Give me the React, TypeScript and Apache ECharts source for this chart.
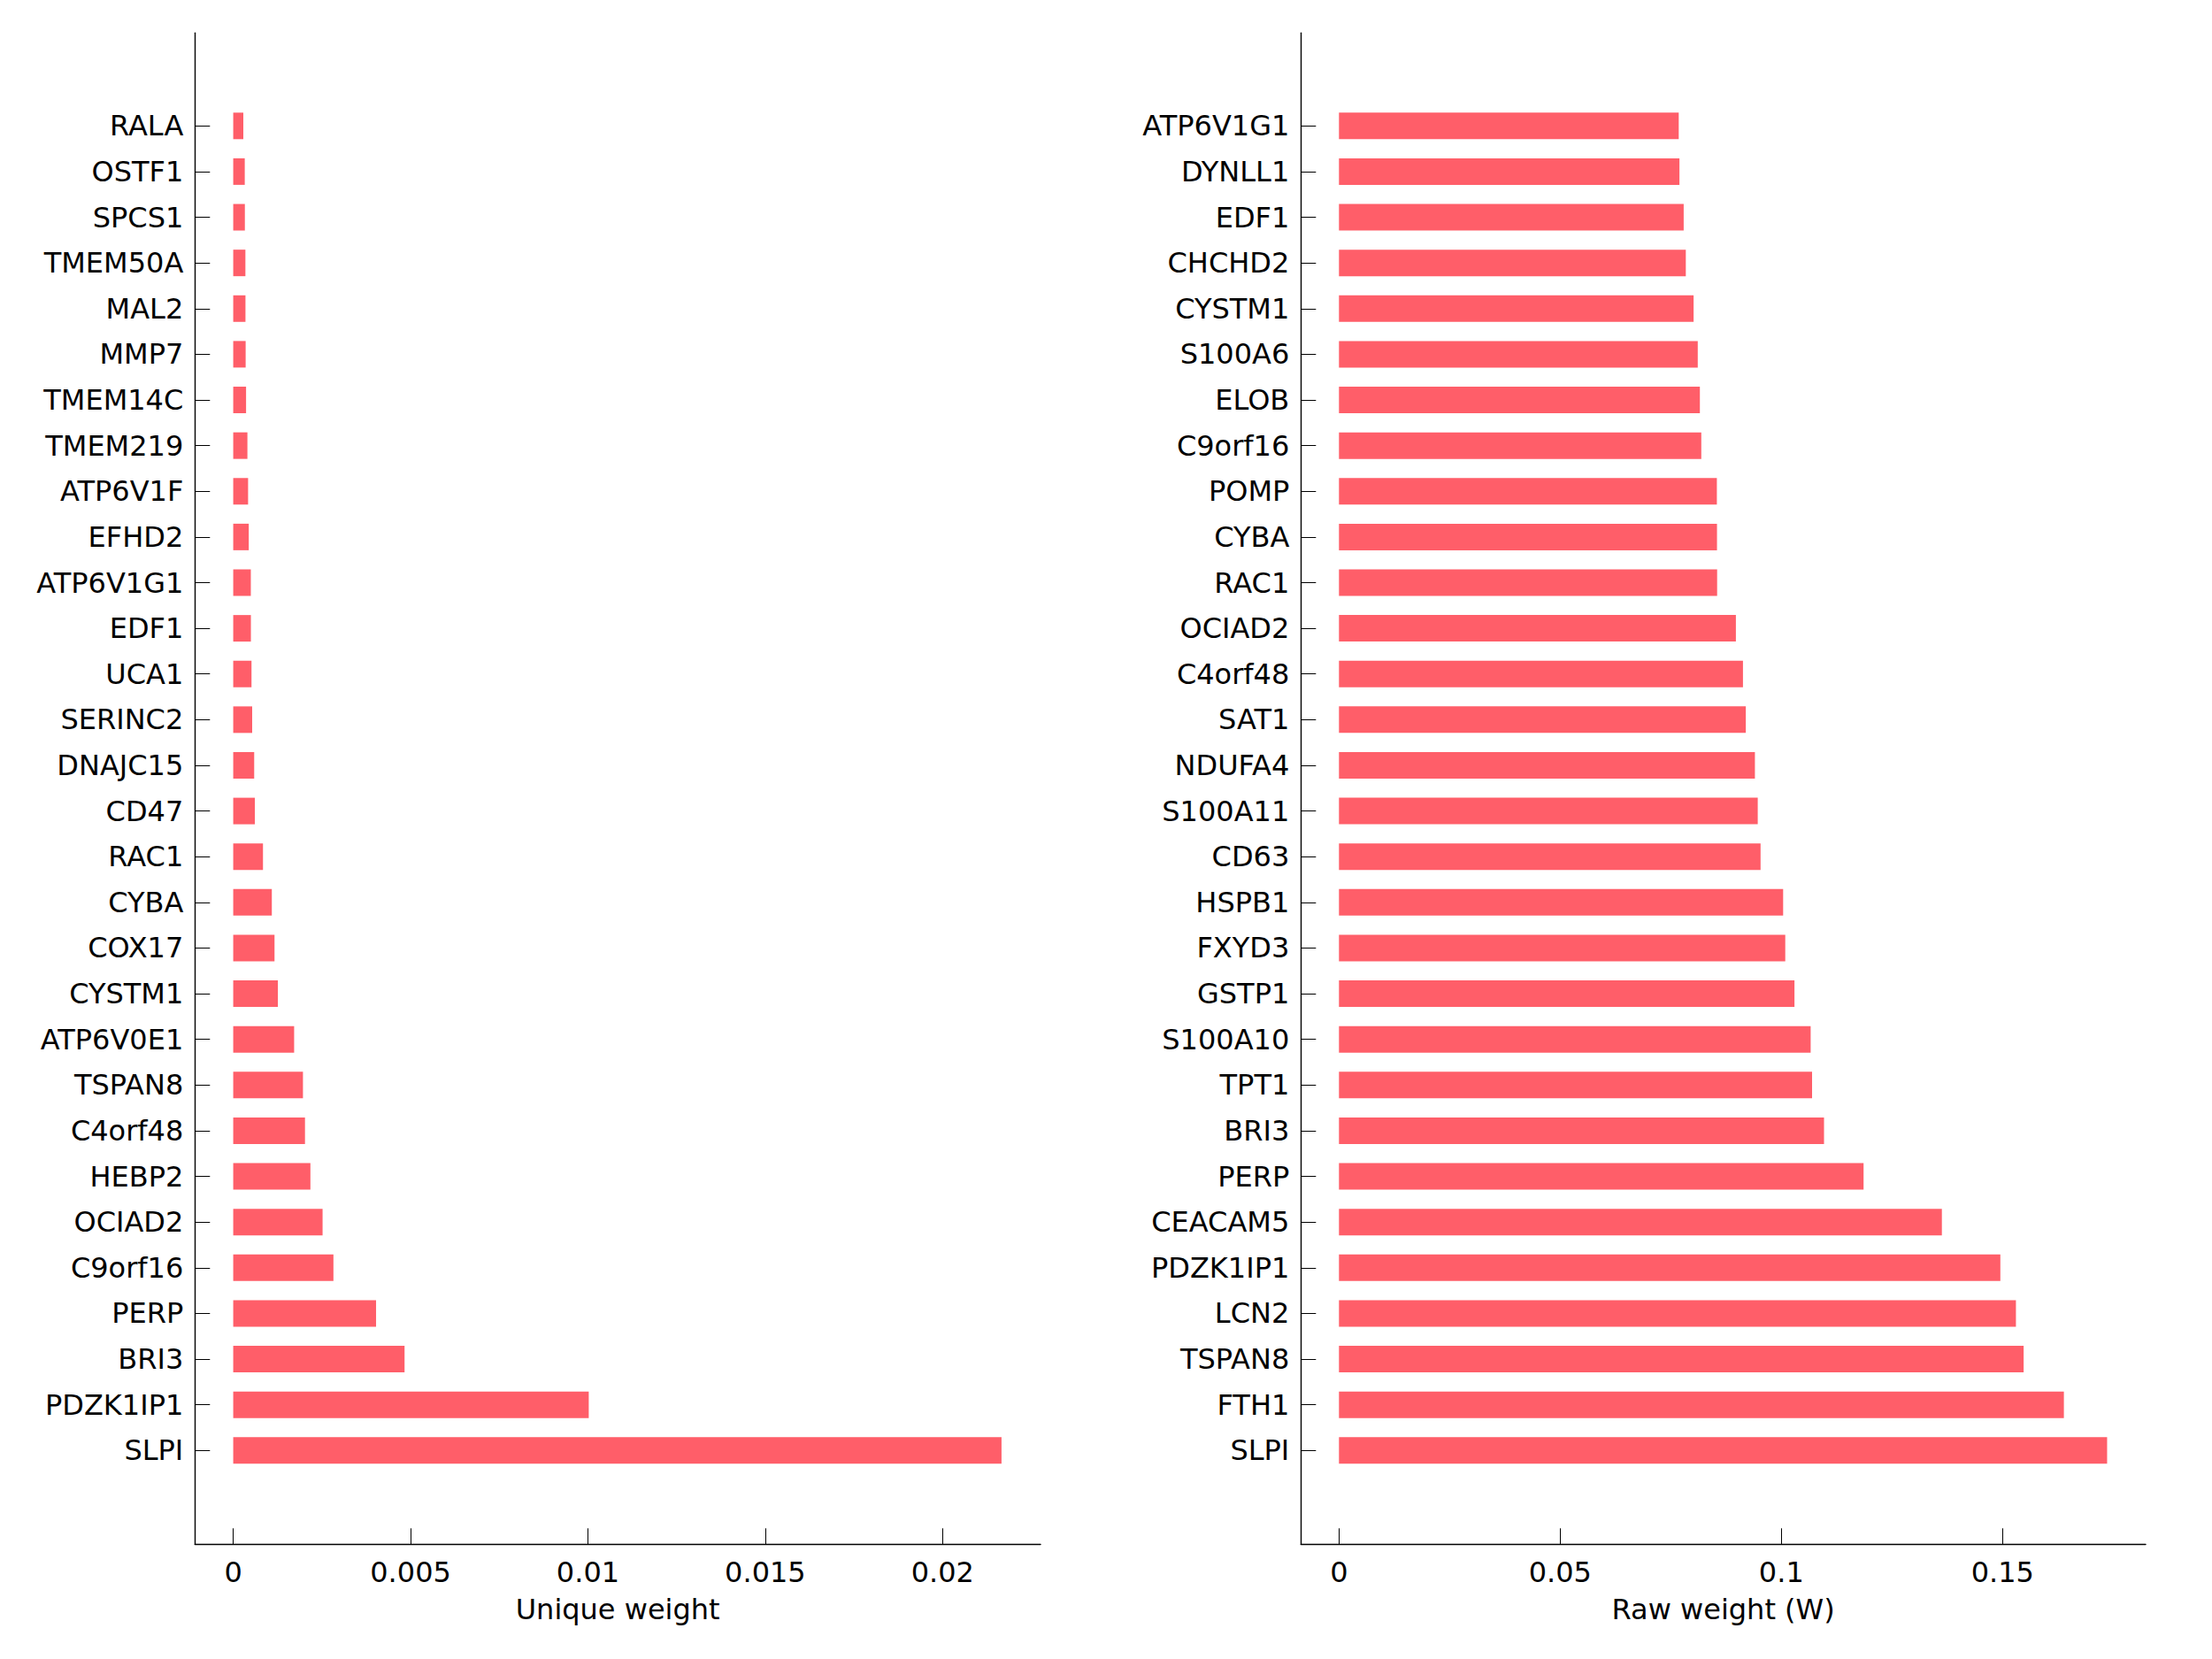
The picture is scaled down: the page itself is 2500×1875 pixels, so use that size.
import React, { useEffect, useRef } from "react";
import * as echarts from "echarts";

const categoriesLeft = [
  "RALA", "OSTF1", "SPCS1", "TMEM50A", "MAL2", "MMP7", "TMEM14C", "TMEM219",
  "ATP6V1F", "EFHD2", "ATP6V1G1", "EDF1", "UCA1", "SERINC2", "DNAJC15", "CD47",
  "RAC1", "CYBA", "COX17", "CYSTM1", "ATP6V0E1", "TSPAN8", "C4orf48", "HEBP2",
  "OCIAD2", "C9orf16", "PERP", "BRI3", "PDZK1IP1", "SLPI",
];
const valuesLeft = [
  0.000284, 0.000325, 0.000328, 0.000343, 0.000345, 0.00035, 0.000362, 0.0004,
  0.000419, 0.000438, 0.000496, 0.000498, 0.000515, 0.000534, 0.000591, 0.00061,
  0.000839, 0.001088, 0.001164, 0.001259, 0.001717, 0.001966, 0.002023, 0.002176,
  0.002519, 0.002825, 0.004027, 0.00483, 0.010023, 0.02166,
];
const categoriesRight = [
  "ATP6V1G1", "DYNLL1", "EDF1", "CHCHD2", "CYSTM1", "S100A6", "ELOB", "C9orf16",
  "POMP", "CYBA", "RAC1", "OCIAD2", "C4orf48", "SAT1", "NDUFA4", "S100A11",
  "CD63", "HSPB1", "FXYD3", "GSTP1", "S100A10", "TPT1", "BRI3", "PERP",
  "CEACAM5", "PDZK1IP1", "LCN2", "TSPAN8", "FTH1", "SLPI",
];
const valuesRight = [
  0.0768, 0.07696, 0.07792, 0.0784, 0.08016, 0.0811, 0.08158, 0.0819,
  0.08542, 0.08545, 0.08548, 0.08972, 0.09132, 0.09196, 0.09402, 0.09466,
  0.0953, 0.1004, 0.10088, 0.10296, 0.10662, 0.10694, 0.10964, 0.11858,
  0.13628, 0.1495, 0.15302, 0.15476, 0.16386, 0.17363,
];
const ticksLeft = [0, 0.005, 0.01, 0.015, 0.02];
const ticksRight = [0, 0.05, 0.1, 0.15];
const nameLeft = "Unique weight";
const nameRight = "Raw weight (W)";

const FONT = "DejaVu Sans";
const BAR_COLOR = "#ff5e69";
const LINE = { color: "#000", width: 1.4 };

export default function App() {
  const ref = useRef<HTMLDivElement>(null);
  useEffect(() => {
    if (!ref.current) return;
    const chart = echarts.init(ref.current, null, { renderer: "svg" });

    // frame grids (0,1): axis lines + x ticks/labels; bar grids (2,3): bars + category labels
    const frameTop = 37.3;
    const frameH = 1708;
    const step = 51.62;
    const barTop = 142.3 - step / 2;
    const barH = step * 30;
    const L = { left: 220.3, width: 955.7 };
    const R = { left: 1470.3, width: 954.7 };

    const frameX = (min: number, max: number, ticks: number[], name: string, gridIndex: number) => ({
      type: "value",
      gridIndex,
      min,
      max,
      name,
      nameLocation: "middle",
      nameGap: 58,
      nameTextStyle: { color: "#000", fontFamily: FONT, fontSize: 32 },
      axisLine: { show: true, onZero: false, lineStyle: LINE },
      axisTick: {
        show: true,
        inside: true,
        length: 18,
        customValues: ticks,
        lineStyle: { color: "#000", width: 1 },
      },
      axisLabel: {
        customValues: ticks,
        margin: 16,
        color: "#000",
        fontFamily: FONT,
        fontSize: 32,
        formatter: (v: number) => String(v),
      },
      splitLine: { show: false },
    });
    const frameY = (gridIndex: number) => ({
      type: "value",
      gridIndex,
      min: 0,
      max: 1,
      axisLine: { show: true, onZero: false, lineStyle: LINE },
      axisTick: { show: false },
      axisLabel: { show: false },
      splitLine: { show: false },
    });
    const barX = (min: number, max: number, gridIndex: number) => ({
      type: "value",
      gridIndex,
      min,
      max,
      show: false,
      splitLine: { show: false },
    });
    const barY = (cats: string[], gridIndex: number) => ({
      type: "category",
      gridIndex,
      data: cats,
      inverse: true,
      axisLine: { show: false, onZero: false },
      axisTick: {
        show: true,
        inside: true,
        length: 17,
        alignWithLabel: true,
        lineStyle: { color: "#000", width: 1 },
      },
      axisLabel: {
        interval: 0,
        margin: 13,
        color: "#000",
        fontFamily: FONT,
        fontSize: 32,
      },
      splitLine: { show: false },
    });

    chart.setOption({
      animation: false,
      backgroundColor: "#fff",
      grid: [
        { ...L, top: frameTop, height: frameH },
        { ...R, top: frameTop, height: frameH },
        { ...L, top: barTop, height: barH },
        { ...R, top: barTop, height: barH },
      ],
      xAxis: [
        frameX(-0.00108, 0.02276, ticksLeft, nameLeft, 0),
        frameX(-0.0086, 0.18234, ticksRight, nameRight, 1),
        barX(-0.00108, 0.02276, 2),
        barX(-0.0086, 0.18234, 3),
      ],
      yAxis: [frameY(0), frameY(1), barY(categoriesLeft, 2), barY(categoriesRight, 3)],
      series: [
        {
          type: "bar",
          xAxisIndex: 2,
          yAxisIndex: 2,
          data: valuesLeft,
          barWidth: 30,
          itemStyle: { color: BAR_COLOR },
        },
        {
          type: "bar",
          xAxisIndex: 3,
          yAxisIndex: 3,
          data: valuesRight,
          barWidth: 30,
          itemStyle: { color: BAR_COLOR },
        },
      ],
    });
    return () => chart.dispose();
  }, []);
  return (
    <div
      ref={ref}
      style={{ position: "fixed", left: 0, top: 0, width: 2500, height: 1875, background: "#fff" }}
    />
  );
}
